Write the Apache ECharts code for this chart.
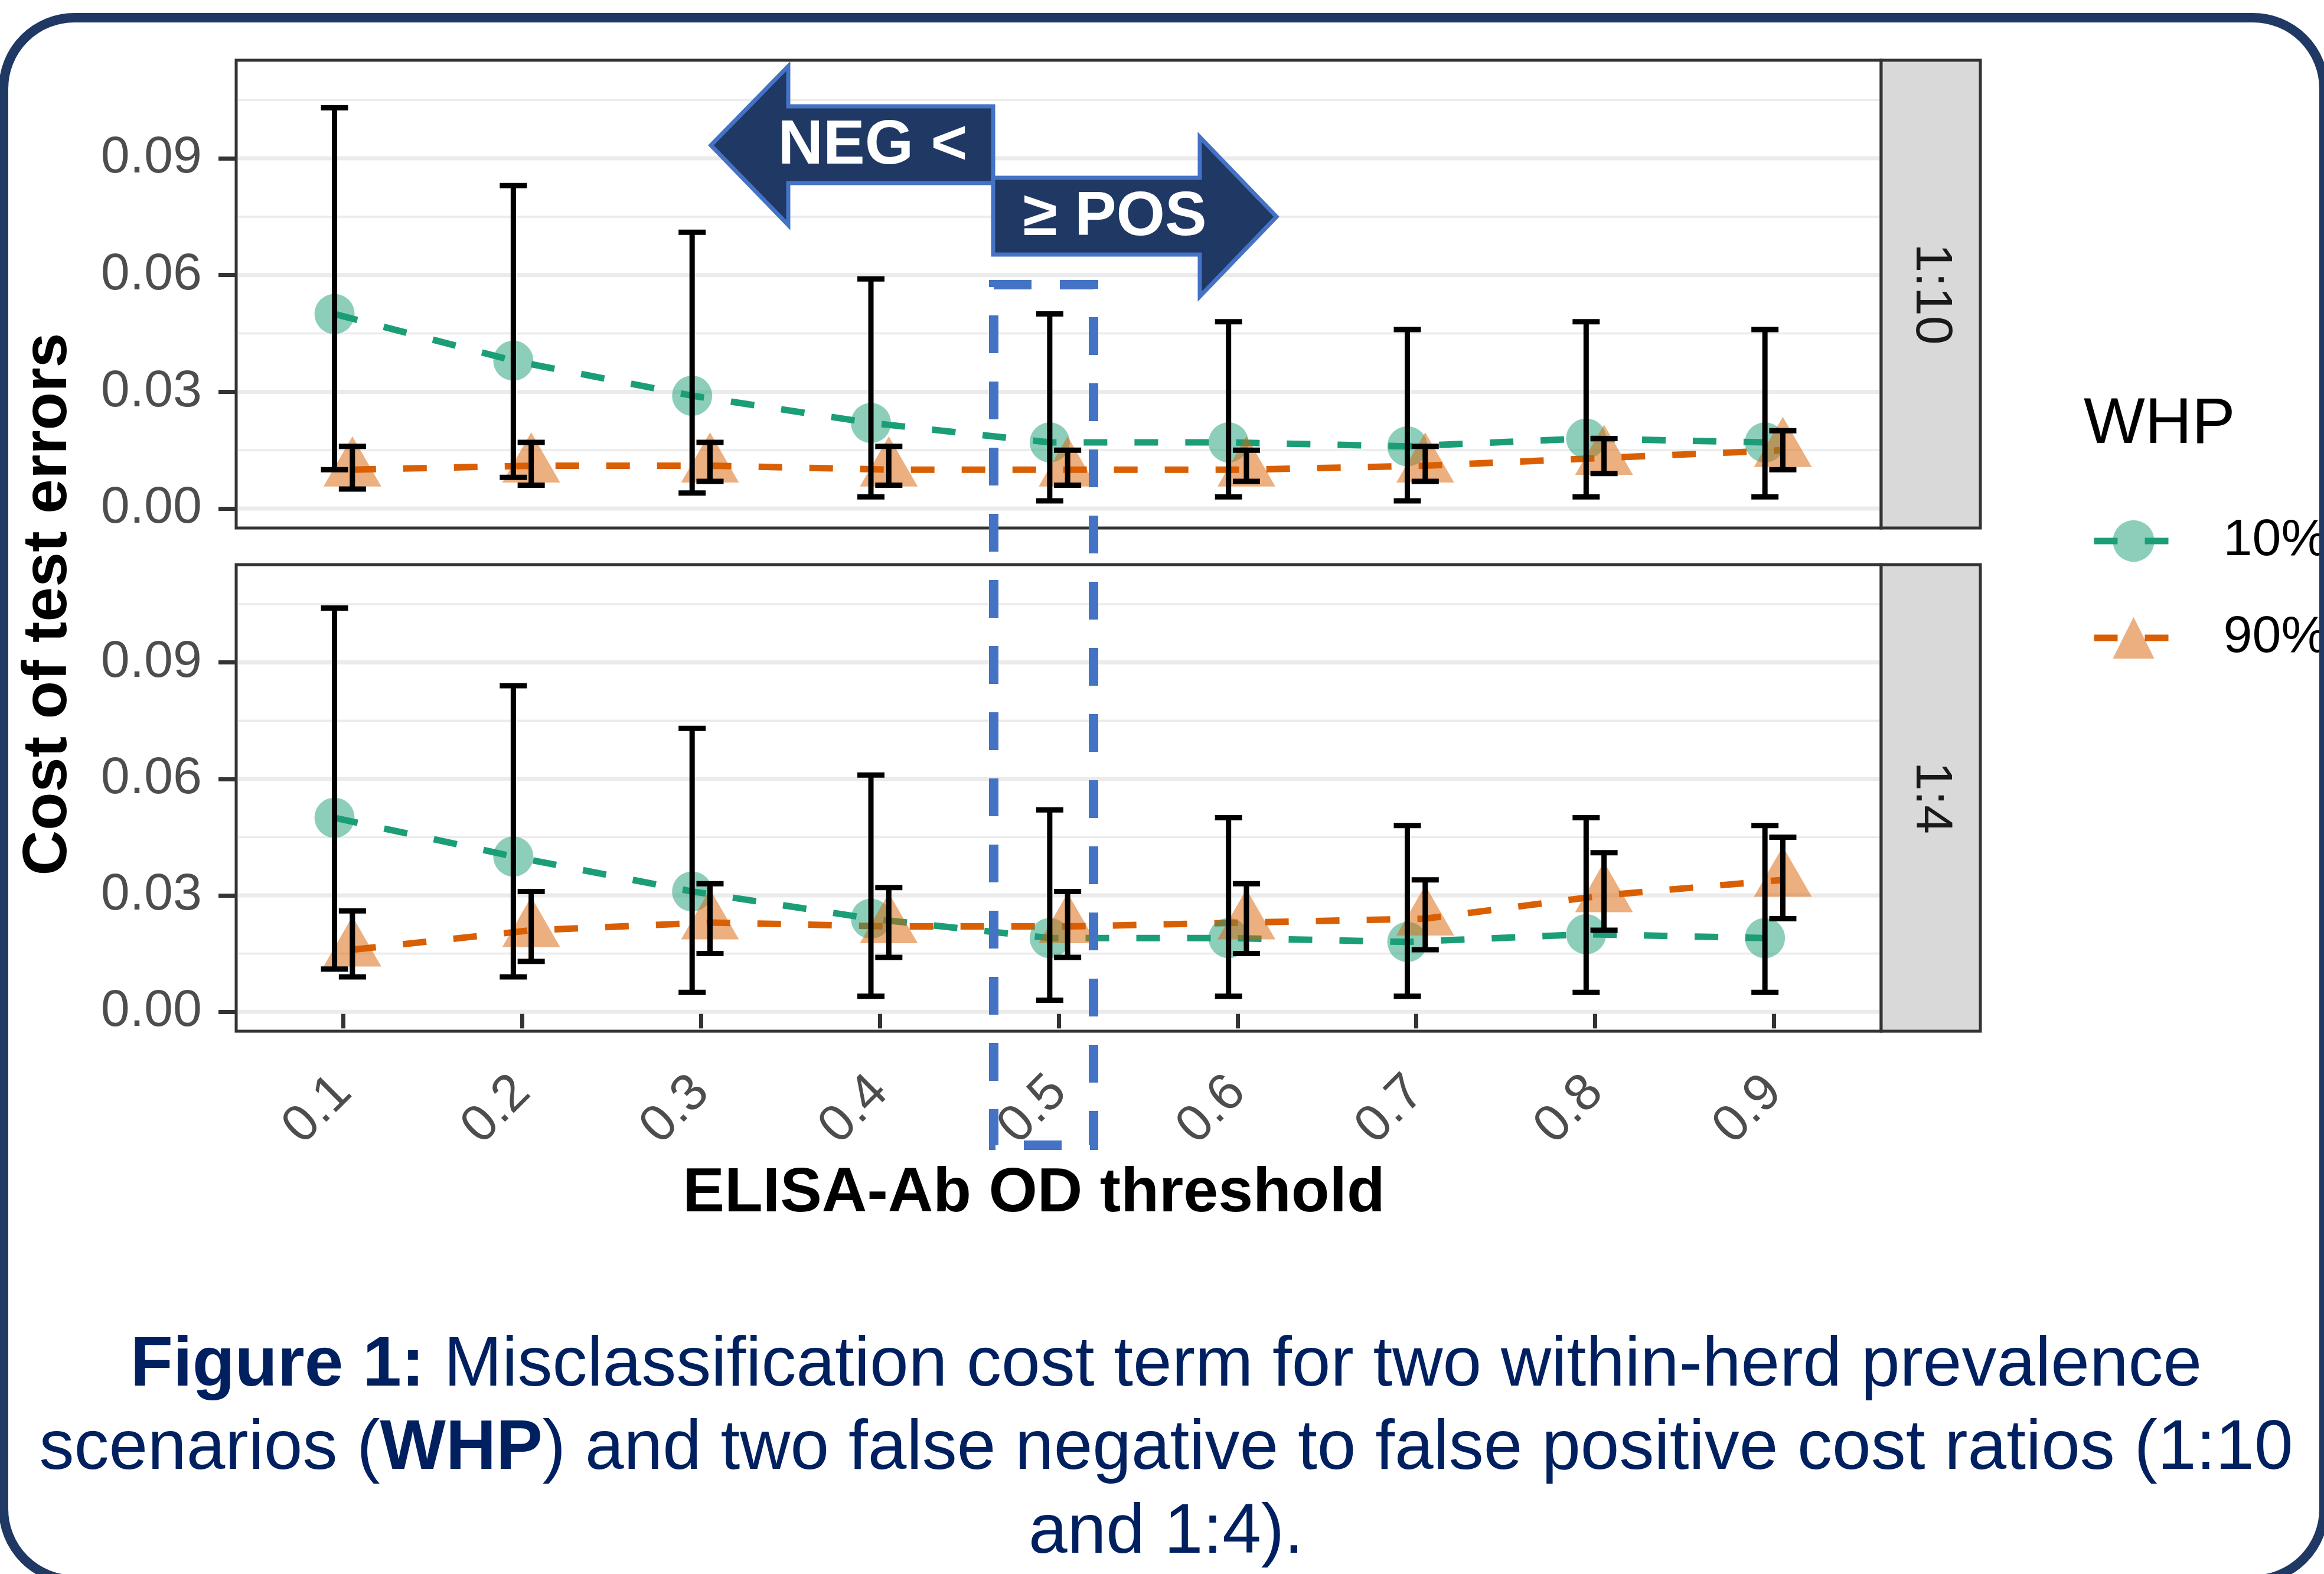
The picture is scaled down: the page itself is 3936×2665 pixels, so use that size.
<!DOCTYPE html>
<html lang="en">
<head>
    <meta charset="UTF-8">
    <title>Misclassification cost</title>
    <style>
        html, body { margin: 0; padding: 0; background: #fff; }
    </style>
</head>
<body>
<div id="main" style="width: 3936px;height:2665px;"></div>
<script src="https://cdn.jsdelivr.net/npm/echarts@6/dist/echarts.min.js"></script>
<script>
    // thresholds on the x axis and their tick labels
    var thresholds = [0.1, 0.2, 0.3, 0.4, 0.5, 0.6, 0.7, 0.8, 0.9];
    var xLabels = ['0.1', '0.2', '0.3', '0.4', '0.5', '0.6', '0.7', '0.8', '0.9'];
    var yTicks = [0, 0.03, 0.06, 0.09];
    var yMinor = [0.015, 0.045, 0.075, 0.105];
    var ratios = ['1:10', '1:4'];
    var whp = ['10%', '90%'];

    // panel 1:10
    var mean10_r10 = [0.050, 0.038, 0.029, 0.022, 0.017, 0.017, 0.016, 0.018, 0.017];
    var lo10_r10   = [0.010, 0.008, 0.004, 0.003, 0.002, 0.003, 0.002, 0.003, 0.003];
    var hi10_r10   = [0.103, 0.083, 0.071, 0.059, 0.050, 0.048, 0.046, 0.048, 0.046];
    var mean90_r10 = [0.010, 0.011, 0.011, 0.010, 0.010, 0.010, 0.011, 0.013, 0.015];
    var lo90_r10   = [0.005, 0.006, 0.007, 0.006, 0.006, 0.007, 0.007, 0.009, 0.010];
    var hi90_r10   = [0.016, 0.017, 0.017, 0.016, 0.015, 0.015, 0.016, 0.018, 0.020];

    // panel 1:4
    var mean10_r4 = [0.050, 0.040, 0.031, 0.024, 0.019, 0.019, 0.018, 0.020, 0.019];
    var lo10_r4   = [0.011, 0.009, 0.005, 0.004, 0.003, 0.004, 0.004, 0.005, 0.005];
    var hi10_r4   = [0.104, 0.084, 0.073, 0.061, 0.052, 0.050, 0.048, 0.050, 0.048];
    var mean90_r4 = [0.016, 0.021, 0.023, 0.022, 0.022, 0.023, 0.024, 0.030, 0.034];
    var lo90_r4   = [0.009, 0.013, 0.015, 0.014, 0.014, 0.015, 0.016, 0.021, 0.024];
    var hi90_r4   = [0.026, 0.031, 0.033, 0.032, 0.031, 0.033, 0.034, 0.041, 0.045];

    var FONT = '"Liberation Sans", Arial, Helvetica, sans-serif';
    var GREEN = '#1B9E77', ORANGE = '#D95F02';
    var DODGE = 0.005;

    var myChart = echarts.init(document.getElementById('main'));

    function pts(mean, shift) {
        return thresholds.map(function (t, i) { return [t + shift, mean[i]]; });
    }
    function bars(lo, hi, shift) {
        return thresholds.map(function (t, i) { return [t + shift, lo[i], hi[i]]; });
    }

    function errRender(params, api) {
        var x = api.value(0);
        var a = api.coord([x, api.value(1)]);
        var b = api.coord([x, api.value(2)]);
        var hw = 23;
        var st = { stroke: '#000', lineWidth: 9 };
        return {
            type: 'group',
            children: [
                { type: 'line', shape: { x1: a[0], y1: a[1], x2: b[0], y2: b[1] }, style: st },
                { type: 'line', shape: { x1: a[0] - hw, y1: a[1], x2: a[0] + hw, y2: a[1] }, style: st },
                { type: 'line', shape: { x1: b[0] - hw, y1: b[1], x2: b[0] + hw, y2: b[1] }, style: st }
            ]
        };
    }

    function gridRender(params, api) {
        var cs = params.coordSys;
        var y = api.coord([0.5, api.value(0)])[1];
        return {
            type: 'line', silent: true,
            shape: { x1: cs.x + 3, y1: y, x2: cs.x + cs.width - 3, y2: y },
            style: { stroke: '#EBEBEB', lineWidth: api.value(1) ? 7 : 3.5 }
        };
    }

    var gridData = yTicks.map(function (v) { return [v, 1]; })
        .concat(yMinor.map(function (v) { return [v, 0]; }));

    var panels = [
        { m10: mean10_r10, l10: lo10_r10, h10: hi10_r10, m90: mean90_r10, l90: lo90_r10, h90: hi90_r10 },
        { m10: mean10_r4, l10: lo10_r4, h10: hi10_r4, m90: mean90_r4, l90: lo90_r4, h90: hi90_r4 }
    ];

    var series = [];
    panels.forEach(function (p, k) {
        series.push({
            type: 'custom', xAxisIndex: k, yAxisIndex: k, z: 1, silent: true,
            encode: { y: 0 }, data: gridData, renderItem: gridRender
        });
        series.push({
            name: whp[0], type: 'line', xAxisIndex: k, yAxisIndex: k, z: 3,
            data: pts(p.m10, -DODGE),
            symbol: 'circle', symbolSize: 68,
            itemStyle: { color: 'rgba(27,158,119,0.5)' },
            lineStyle: { color: GREEN, width: 11, type: [40, 46] }
        });
        series.push({
            name: whp[1], type: 'line', xAxisIndex: k, yAxisIndex: k, z: 3,
            data: pts(p.m90, DODGE),
            symbol: 'triangle', symbolSize: [98, 85], symbolOffset: [0, -14],
            itemStyle: { color: 'rgba(217,95,2,0.5)' },
            lineStyle: { color: ORANGE, width: 11, type: [40, 46] }
        });
        series.push({
            type: 'custom', xAxisIndex: k, yAxisIndex: k, z: 5,
            data: bars(p.l10, p.h10, -DODGE), renderItem: errRender
        });
        series.push({
            type: 'custom', xAxisIndex: k, yAxisIndex: k, z: 5,
            data: bars(p.l90, p.h90, DODGE), renderItem: errRender
        });
    });

    function yAxis(k) {
        return {
            type: 'value', gridIndex: k, min: -0.005, max: 0.1152,
            axisLine: { show: false },
            splitLine: { show: false },
            axisTick: { show: true, length: 30, customValues: yTicks, lineStyle: { color: '#333', width: 7 } },
            axisLabel: {
                show: true, customValues: yTicks, margin: 58,
                color: '#4D4D4D', fontSize: 88, fontFamily: FONT,
                formatter: function (v) { return v.toFixed(2); }
            }
        };
    }

    function xAxis(k, showLabels) {
        return {
            type: 'value', gridIndex: k, min: 0.04, max: 0.96,
            axisLine: { show: false },
            splitLine: { show: false },
            axisTick: { show: showLabels, length: 28, customValues: thresholds, lineStyle: { color: '#333', width: 7 } },
            axisLabel: {
                show: showLabels, customValues: thresholds, rotate: 45, margin: 90,
                color: '#4D4D4D', fontSize: 88, fontFamily: FONT,
                formatter: function (v) {
                    var best = 0;
                    thresholds.forEach(function (t, i) {
                        if (Math.abs(t - v) < Math.abs(thresholds[best] - v)) best = i;
                    });
                    return xLabels[best];
                }
            }
        };
    }

    var gridBox = { show: true, backgroundColor: '#fff', borderColor: '#333', borderWidth: 5 };
    var navy = '#1F3864', blue = '#4472C4';

    var graphics = [
        // outer frame
        { type: 'rect', z: 90, shape: { x: 6, y: 30, width: 3930, height: 2645, r: 120 },
          style: { fill: 'none', stroke: '#203864', lineWidth: 16 } },
        // facet strips
        { type: 'rect', z: 10, shape: { x: 3186, y: 102, width: 168, height: 792 },
          style: { fill: '#D9D9D9', stroke: '#333', lineWidth: 5 } },
        { type: 'text', z: 11, x: 3270, y: 498, rotation: -Math.PI / 2,
          style: { text: ratios[0], fill: '#1A1A1A', font: '88px ' + FONT, align: 'center', verticalAlign: 'middle' } },
        { type: 'rect', z: 10, shape: { x: 3186, y: 956, width: 168, height: 790 },
          style: { fill: '#D9D9D9', stroke: '#333', lineWidth: 5 } },
        { type: 'text', z: 11, x: 3270, y: 1351, rotation: -Math.PI / 2,
          style: { text: ratios[1], fill: '#1A1A1A', font: '88px ' + FONT, align: 'center', verticalAlign: 'middle' } },
        // axis titles
        { type: 'text', z: 11, x: 83, y: 1023, rotation: Math.PI / 2,
          style: { text: 'Cost of test errors', fill: '#000', font: 'bold 106px ' + FONT, align: 'center', verticalAlign: 'middle' } },
        { type: 'text', z: 11, x: 1751, y: 2022,
          style: { text: 'ELISA-Ab OD threshold', fill: '#000', font: 'bold 106px ' + FONT, align: 'center', verticalAlign: 'middle' } },
        // legend title
        { type: 'text', z: 11, x: 3529, y: 720,
          style: { text: 'WHP', fill: '#000', font: '110px ' + FONT, align: 'left', verticalAlign: 'middle' } },
        // dashed box round 0.5
        { type: 'rect', z: 100, shape: { x: 1683, y: 482, width: 169, height: 1457 },
          style: { fill: 'none', stroke: blue, lineWidth: 16, lineDash: [64, 48] } },
        // NEG < arrow
        { type: 'polygon', z: 101,
          shape: { points: [[1204, 246], [1335, 112], [1335, 180], [1682, 180], [1682, 310], [1335, 310], [1335, 381]] },
          style: { fill: navy, stroke: blue, lineWidth: 7 } },
        { type: 'text', z: 102, x: 1478, y: 248,
          style: { text: 'NEG <', fill: '#fff', font: 'bold 106px ' + FONT, align: 'center', verticalAlign: 'middle' } },
        // >= POS arrow
        { type: 'polygon', z: 103,
          shape: { points: [[1682, 301], [2032, 301], [2032, 232], [2162, 367], [2032, 502], [2032, 431], [1682, 431]] },
          style: { fill: navy, stroke: blue, lineWidth: 7 } },
        { type: 'text', z: 104, x: 1888, y: 369,
          style: { text: '\u2265 POS', fill: '#fff', font: 'bold 106px ' + FONT, align: 'center', verticalAlign: 'middle' } }
    ];

    // caption
    var capLines = [
        '{b|Figure 1:} Misclassification cost term for two within-herd prevalence',
        'scenarios ({b|WHP}) and two false negative to false positive cost ratios (1:10',
        'and 1:4).'
    ];
    var capY = [2313, 2454, 2596];
    capLines.forEach(function (s, i) {
        graphics.push({
            type: 'text', z: 11, x: 1975, y: capY[i],
            style: {
                text: s, fill: '#002060', font: '118px ' + FONT, align: 'center', verticalAlign: 'middle',
                rich: { b: { fontWeight: 'bold', fontSize: 118, fontFamily: FONT, fill: '#002060' } }
            }
        });
    });

    myChart.setOption({
        animation: false,
        backgroundColor: '#fff',
        textStyle: { fontFamily: FONT },
        grid: [
            Object.assign({ left: 400, top: 102, width: 2786, height: 792 }, gridBox),
            Object.assign({ left: 400, top: 956, width: 2786, height: 790 }, gridBox)
        ],
        xAxis: [xAxis(0, false), xAxis(1, true)],
        yAxis: [yAxis(0), yAxis(1)],
        legend: {
            data: whp, orient: 'vertical', left: 3541, top: 872, padding: 0,
            itemWidth: 134, itemHeight: 88, itemGap: 76,
            lineStyle: { width: 11 },
            textStyle: { fontSize: 88, color: '#000', fontFamily: FONT, lineHeight: 88, padding: [0, 0, 0, 80] }
        },
        graphic: graphics,
        series: series
    });
</script>
</body>
</html>
